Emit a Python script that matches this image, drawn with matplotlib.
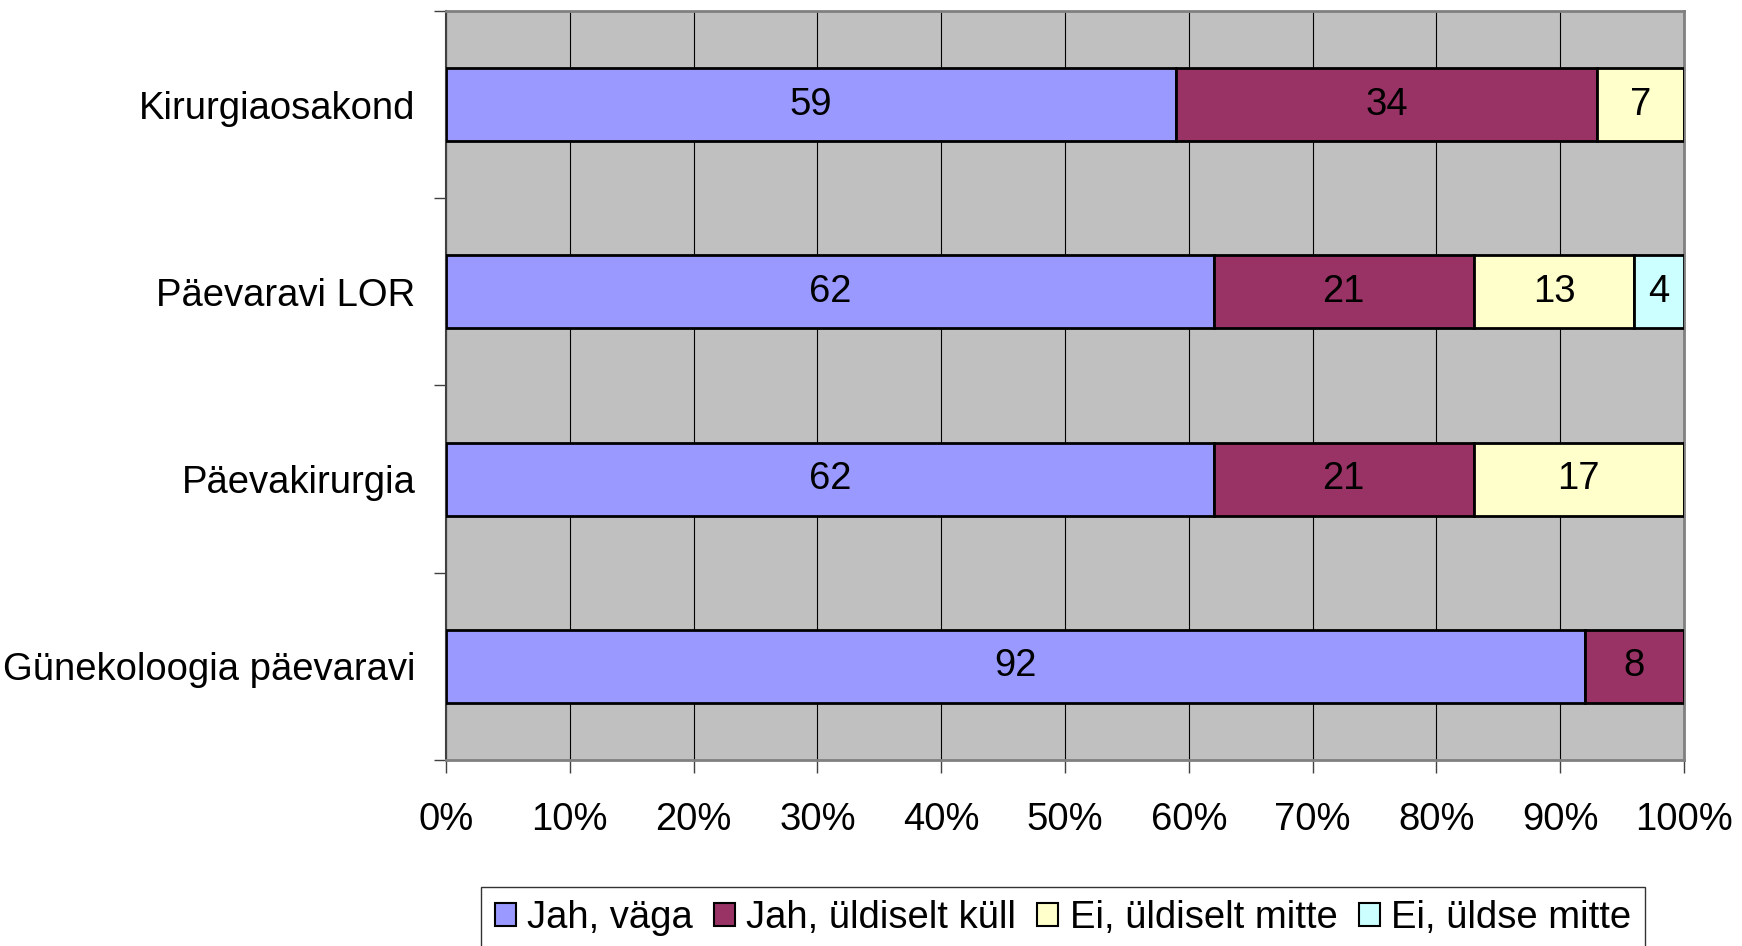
import numpy as np
import matplotlib
matplotlib.use("Agg")
from matplotlib import pyplot as plt
from matplotlib.patches import Patch

plt.rcParams['font.family'] = ['Liberation Sans', 'DejaVu Sans']

categories = ["Kirurgiaosakond", "Päevaravi LOR", "Päevakirurgia", "Günekoloogia päevaravi"]
series_names = ["Jah, väga", "Jah, üldiselt küll", "Ei, üldiselt mitte", "Ei, üldse mitte"]
jah_vaga = [59, 62, 62, 92]
jah_uldiselt = [34, 21, 21, 8]
ei_uldiselt = [7, 13, 17, 0]
ei_uldse = [0, 4, 0, 0]
colors = ["#9999FF", "#993366", "#FFFFCC", "#CCFFFF"]
x_ticks = [0, 10, 20, 30, 40, 50, 60, 70, 80, 90, 100]

FS = 27.5


def main():
    fig = plt.figure(figsize=(17.42, 9.46), dpi=100)
    ax = fig.add_axes([446 / 1742, 1 - 760 / 946, (1684 - 446) / 1742, (760 - 11) / 946])
    ax.set_facecolor("#C0C0C0")

    y = np.arange(len(categories))
    left = np.zeros(len(categories))
    for vals, name, c in zip([jah_vaga, jah_uldiselt, ei_uldiselt, ei_uldse], series_names, colors):
        vals = np.array(vals, dtype=float)
        bars = ax.barh(y, vals, left=left, height=0.39, color=c, edgecolor="black",
                       linewidth=2, zorder=3)
        for b, v in zip(bars, vals):
            if v > 0:
                ax.text(b.get_x() + b.get_width() / 2, b.get_y() + b.get_height() / 2, f"{int(v)}",
                        ha="center", va="center", fontsize=FS, zorder=4)
        left += vals

    ax.set_xlim(0, 100)
    ax.set_ylim(len(categories) - 0.5, -0.5)
    ax.set_xticks(x_ticks)
    ax.set_xticklabels([f"{t}%" for t in x_ticks])
    ax.xaxis.grid(True, color="black", linewidth=0.8, zorder=1)
    ax.set_axisbelow(True)

    # category labels on minor ticks, tick marks on boundaries
    ax.set_yticks(np.arange(len(categories) + 1) - 0.5)
    ax.set_yticklabels([])
    ax.set_yticks(y, minor=True)
    ax.set_yticklabels(categories, minor=True)
    ax.tick_params(axis="y", which="minor", length=0, pad=22, labelsize=FS)
    ax.tick_params(axis="y", which="major", length=9, width=1, color="#404040")
    ax.tick_params(axis="x", length=9, width=1, pad=21, labelsize=FS, color="#404040")

    for s in ["top", "right", "bottom"]:
        ax.spines[s].set_color("#808080")
        ax.spines[s].set_linewidth(2)
    ax.spines["left"].set_color("#404040")
    ax.spines["left"].set_linewidth(1.5)

    handles = [Patch(facecolor=c, edgecolor="black", linewidth=1.5) for c in colors]
    leg = fig.legend(handles, series_names, loc="upper center", bbox_to_anchor=(1063 / 1742, 1 - 887 / 946),
                     ncol=4, fontsize=FS, frameon=True, fancybox=False, handlelength=0.55, handleheight=0.55,
                     handletextpad=0.3, columnspacing=0.55, borderpad=0.35, borderaxespad=0)
    leg.get_frame().set_edgecolor("black")
    leg.get_frame().set_linewidth(1)

    fig.savefig("out.png", dpi=100)


if __name__ == "__main__":
    main()
